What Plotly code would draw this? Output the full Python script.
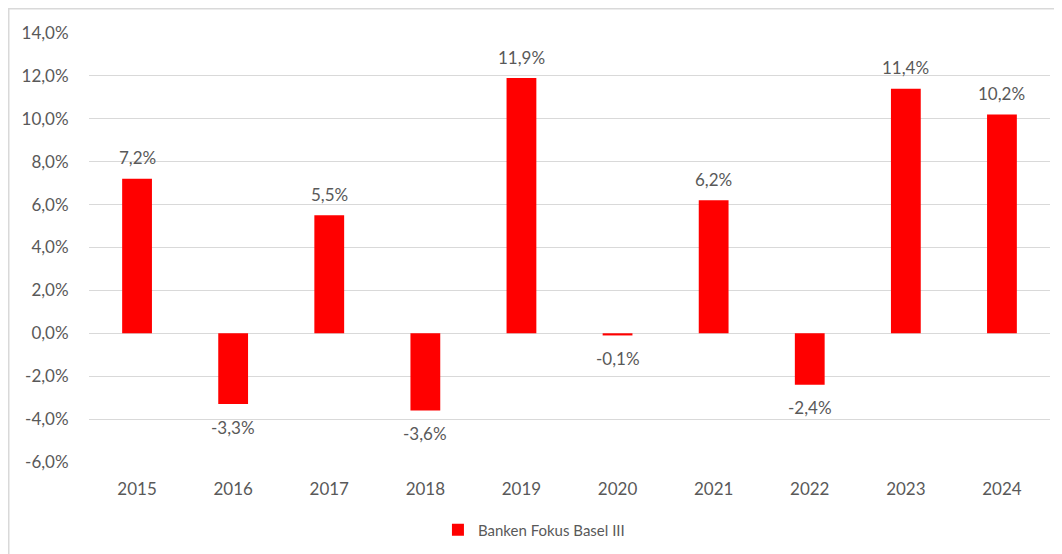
import plotly.graph_objects as go

years = ["2015", "2016", "2017", "2018", "2019", "2020", "2021", "2022", "2023", "2024"]
values = [7.2, -3.3, 5.5, -3.6, 11.9, -0.1, 6.2, -2.4, 11.4, 10.2]
series_name = "Banken Fokus Basel III"
y_ticks = [-6, -4, -2, 0, 2, 4, 6, 8, 10, 12, 14]

FONT = "Lato"
FS = 17
GRAY = "#595959"
RED = "#FF0000"


def pct(v):
    return f"{v:.1f}%".replace(".", ",")


fig = go.Figure()
fig.add_trace(go.Bar(
    x=years, y=values, name=series_name,
    marker=dict(color=RED, line=dict(width=0)),
    showlegend=True,
))

annotations = []
for i, v in enumerate(values):
    annotations.append(dict(
        x=i, y=v, xref="x", yref="y",
        text=pct(v),
        showarrow=False,
        yshift=21 if v >= 0 else -23,
        font=dict(family=FONT, size=FS, color=GRAY),
    ))

fig.update_layout(
    width=1054, height=546,
    margin=dict(l=81, r=12, t=25, b=92, autoexpand=False),
    paper_bgcolor="white", plot_bgcolor="white",
    font=dict(family=FONT, size=FS, color=GRAY),
    bargap=0.69,
    xaxis=dict(
        type="category", categoryorder="array", categoryarray=years,
        range=[-0.5, len(years) - 0.5], autorange=False, automargin=False,
        showgrid=False, showline=False,
        ticks="outside", ticklen=12, tickcolor="rgba(0,0,0,0)",
        tickfont=dict(family=FONT, size=FS, color=GRAY),
    ),
    yaxis=dict(
        range=[-6, 14], autorange=False, automargin=False,
        tickvals=y_ticks, ticktext=[pct(t) for t in y_ticks],
        showgrid=True, gridcolor="#D9D9D9", gridwidth=1.3,
        zeroline=True, zerolinecolor="#D9D9D9", zerolinewidth=1.3,
        showline=False,
        ticks="outside", ticklen=16, tickcolor="rgba(0,0,0,0)",
        tickfont=dict(family=FONT, size=FS, color=GRAY),
    ),
    legend=dict(
        orientation="h", x=0.463, xanchor="center",
        yref="container", y=0.044, yanchor="middle",
        font=dict(family=FONT, size=15, color=GRAY),
    ),
    annotations=annotations,
    shapes=[dict(
        type="rect", xref="paper", yref="paper",
        x0=-0.0835, x1=1.05, y0=-0.4, y1=1.0565,
        line=dict(color="#D9D9D9", width=1.5), fillcolor="rgba(0,0,0,0)",
        layer="below",
    )],
)

fig.write_html("out.html")
